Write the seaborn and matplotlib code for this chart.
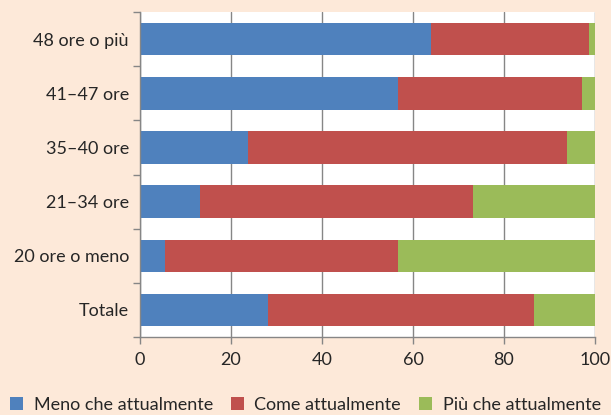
import matplotlib
matplotlib.use("Agg")
import matplotlib.pyplot as plt
import seaborn as sns
import pandas as pd
import numpy as np
from matplotlib.patches import Patch

categories = ["48 ore o più", "41–47 ore", "35–40 ore", "21–34 ore", "20 ore o meno", "Totale"]
meno = [64.0, 56.8, 23.8, 13.2, 5.6, 28.2]
come = [34.7, 40.4, 70.0, 60.0, 51.2, 58.4]
piu = [1.3, 2.8, 6.2, 26.8, 43.2, 13.4]
series_names = ["Meno che attualmente", "Come attualmente", "Più che attualmente"]
colors = ["#4f81bd", "#c0504d", "#9bbb59"]
xticks = [0, 20, 40, 60, 80, 100]

sns.set_style("white")
plt.rcParams['font.family'] = ['Lato', 'DejaVu Sans']

fig = plt.figure(figsize=(6.11, 4.15), dpi=100)
fig.patch.set_facecolor("#fde9d9")
ax = fig.add_axes([140/611, 1-337/415, (595-140)/611, (337-12)/415])
ax.set_facecolor("white")

df = pd.DataFrame({"cat": categories, "meno": meno, "come": come, "piu": piu})
df["c1"] = df["meno"]
df["c2"] = df["meno"] + df["come"]
df["c3"] = df["c2"] + df["piu"]

for col, color in zip(["c3", "c2", "c1"], colors[::-1]):
    sns.barplot(data=df, x=col, y="cat", order=categories, color=color,
                width=0.6, orient="h", ax=ax, saturation=1, edgecolor="none",
                linewidth=0)

ax.set_xlim(0, 100)
ax.set_ylim(5.5, -0.5)
ax.set_xticks(xticks)
ax.set_xticklabels([str(t) for t in xticks], fontsize=13)
ax.set_xlabel("")
ax.set_ylabel("")
ax.set_axisbelow(True)
ax.grid(axis="x", color="#868686", linewidth=1.0)
ax.grid(axis="y", visible=False)

ax.set_yticks(range(len(categories)))
ax.set_yticklabels(categories, fontsize=13)
ax.tick_params(axis="y", which="major", length=0, pad=8)
ax.set_yticks(np.arange(-0.5, len(categories), 1.0), minor=True)
ax.tick_params(axis="y", which="minor", length=5, color="#868686", width=1, direction="out", left=True)
ax.tick_params(axis="x", which="major", length=5, color="#868686", width=1, direction="out", bottom=True, pad=6)

for s in ["top", "right"]:
    ax.spines[s].set_visible(False)
for s in ["left", "bottom"]:
    ax.spines[s].set_color("#868686")
    ax.spines[s].set_linewidth(1.0)

handles = [Patch(facecolor=c, edgecolor="none") for c in colors]
fig.legend(handles, series_names, loc="center", bbox_to_anchor=(0.5, 1-405/415),
           ncol=3, frameon=False, fontsize=13, handlelength=0.7, handleheight=0.7,
           handletextpad=0.6, columnspacing=1.0)

fig.savefig("out.png", dpi=100, facecolor=fig.get_facecolor())
